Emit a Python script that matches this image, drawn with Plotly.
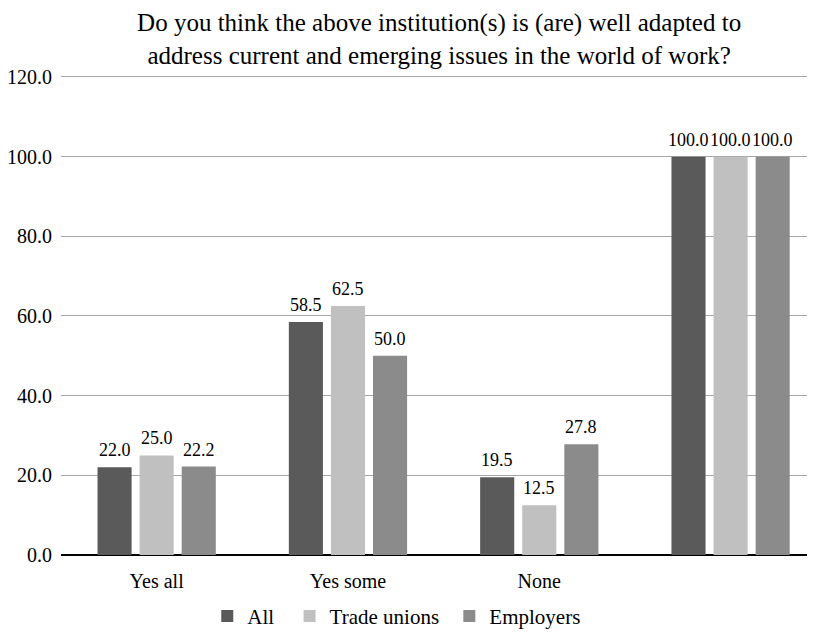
import plotly.graph_objects as go

# categories and series values
categories = ["Yes all", "Yes some", "None", " "]
all_vals = [22.0, 58.5, 19.5, 100.0]
trade_unions = [25.0, 62.5, 12.5, 100.0]
employers = [22.2, 50.0, 27.8, 100.0]

series = [
    ("All\u00a0\u00a0", all_vals, "#5a5a5a"),
    ("Trade unions\u00a0", trade_unions, "#c0c0c0"),
    ("Employers", employers, "#8b8b8b"),
]

serif = "Times New Roman, Liberation Serif, Tinos, serif"
bar_step = 42.1  # px between bar centres inside a group

fig = go.Figure()
for i, (name, vals, color) in enumerate(series):
    fig.add_trace(go.Bar(
        x=categories, y=vals, name=name,
        marker=dict(color=color, line=dict(width=0)),
        hoverinfo="x+y+name",
    ))
    # value labels, a bit higher above the bars than plotly's own outside text
    for cat, v in zip(categories, vals):
        fig.add_annotation(
            x=cat, y=v, text=f"{v:.1f}", showarrow=False,
            xshift=(i - 1) * bar_step, yshift=5, yanchor="bottom",
            font=dict(family=serif, size=18, color="black"),
        )

# the page body has an 8px margin, so everything is laid out 8px up/left
fig.update_layout(
    width=815, height=632,
    barmode="group", bargap=0.34, bargroupgap=0.19,
    plot_bgcolor="white", paper_bgcolor="white",
    font=dict(family=serif, color="black"),
    margin=dict(l=53, r=0, t=65, b=85),
    title=dict(
        text="Do you think the above institution(s) is (are) well adapted to<br>"
             "address current and emerging issues in the world of work?",
        font=dict(family=serif, size=25, color="black"),
        x=0.529, xanchor="center", xref="container",
        y=0.963, yanchor="top", yref="container",
    ),
    legend=dict(
        orientation="h", x=0.477, xanchor="center", y=0.005, yanchor="bottom",
        xref="container", yref="container",
        font=dict(family=serif, size=21, color="black"),
        itemwidth=30, traceorder="normal",
    ),
)
fig.update_xaxes(
    range=[-0.5, 3.483], showgrid=False, showline=False,
    tickfont=dict(family=serif, size=20, color="black"),
    ticks="", ticklabelstandoff=12,
)
fig.update_yaxes(
    range=[0, 121], tickvals=[0, 20, 40, 60, 80, 100, 120], tickformat=".1f",
    showgrid=True, gridcolor="#a6a6a6", gridwidth=1,
    zeroline=True, zerolinecolor="black", zerolinewidth=1.5,
    showline=False, ticks="", ticklabelstandoff=8,
    tickfont=dict(family=serif, size=20, color="black"),
)

fig.write_html("out.html")
